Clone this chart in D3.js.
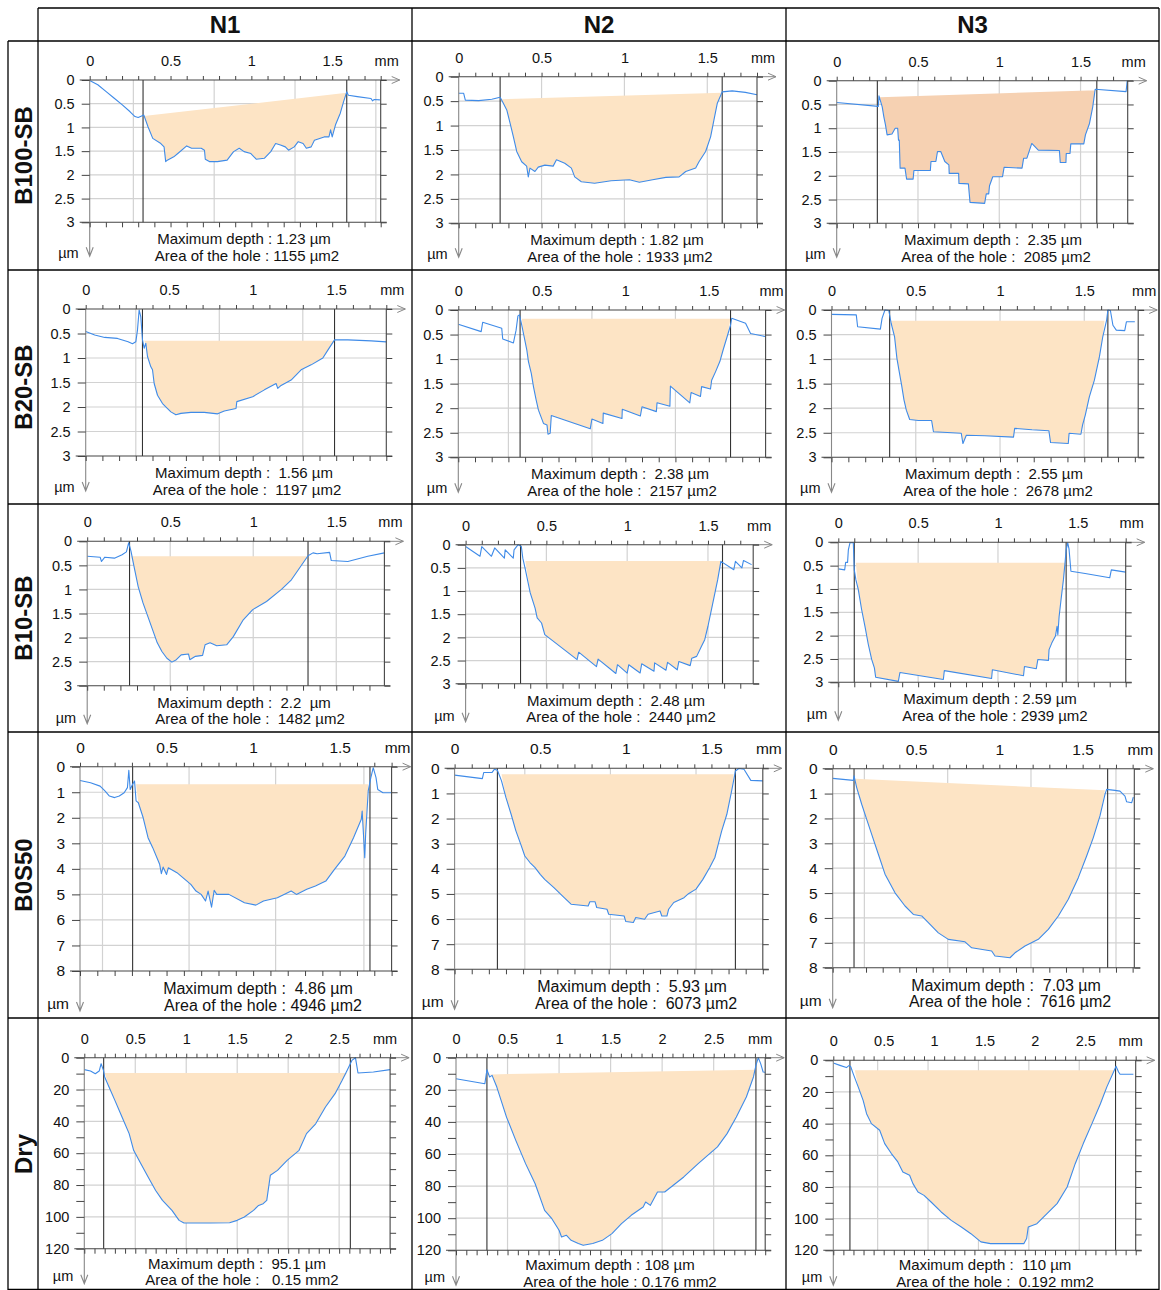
<!DOCTYPE html>
<html><head><meta charset="utf-8">
<script src="https://cdn.jsdelivr.net/npm/d3@7"></script>
<style>
body{margin:0;background:#fff}
svg text{font-family:"Liberation Sans",Arial,Helvetica,sans-serif;fill:#111}
</style>
</head><body>
<svg id="c" width="1161" height="1290"></svg>
<script>
// ---------------- DATA ----------------
const rowLabels = ["B100-SB","B20-SB","B10-SB","B0S50","Dry"];
const colLabels = ["N1","N2","N3"];

const yMaxByRow = [3,3,3,8,120];
const yTickLabelsByRow = [
  [0,0.5,1,1.5,2,2.5,3],
  [0,0.5,1,1.5,2,2.5,3],
  [0,0.5,1,1.5,2,2.5,3],
  [0,1,2,3,4,5,6,7,8],
  [0,20,40,60,80,100,120]
];
const yMinorStepByRow = [0.5,0.5,0.5,1,10];
const xTickLabelsByRow = [
  [0,0.5,1,1.5],[0,0.5,1,1.5],[0,0.5,1,1.5],[0,0.5,1,1.5],[0,0.5,1,1.5,2,2.5]
];
const xExtent = [1.80,1.80,1.79, 1.80,1.84,1.82, 1.79,1.78,1.80, 1.80,1.80,1.81, 3.0,3.0,3.0];

// profiles: [x mm, depth]
const b100_n1 = [[0,0.01],[0.05,0.1],[0.1,0.24],[0.15,0.38],[0.2,0.52],[0.25,0.67],[0.28,0.77],[0.30,0.79],[0.335,0.74],[0.36,0.98],[0.39,1.23],[0.44,1.34],[0.46,1.41],[0.47,1.72],[0.48,1.69],[0.52,1.62],[0.545,1.55],[0.60,1.39],[0.63,1.44],[0.69,1.44],[0.71,1.48],[0.715,1.67],[0.74,1.72],[0.79,1.72],[0.85,1.69],[0.89,1.51],[0.925,1.44],[0.955,1.51],[0.997,1.55],[1.03,1.67],[1.08,1.65],[1.12,1.51],[1.15,1.34],[1.18,1.37],[1.21,1.41],[1.23,1.48],[1.265,1.41],[1.29,1.30],[1.32,1.34],[1.34,1.44],[1.37,1.41],[1.39,1.27],[1.45,1.20],[1.48,1.20],[1.49,1.05],[1.50,1.20],[1.52,0.95],[1.55,0.70],[1.57,0.46],[1.59,0.25],[1.60,0.32],[1.655,0.35],[1.74,0.39],[1.75,0.44],[1.76,0.41],[1.795,0.42]];
const b100_n2 = [[0,0.34],[0.03,0.34],[0.04,0.48],[0.12,0.49],[0.2,0.46],[0.25,0.42],[0.27,0.55],[0.29,0.68],[0.31,0.95],[0.33,1.23],[0.35,1.53],[0.38,1.74],[0.41,1.83],[0.42,2.05],[0.43,1.87],[0.46,1.94],[0.48,1.85],[0.52,1.81],[0.57,1.83],[0.59,1.70],[0.64,1.77],[0.68,1.87],[0.70,2.05],[0.74,2.15],[0.82,2.18],[0.92,2.13],[1.03,2.11],[1.09,2.16],[1.17,2.11],[1.25,2.06],[1.33,2.05],[1.37,1.94],[1.43,1.87],[1.45,1.74],[1.49,1.53],[1.52,1.23],[1.54,0.89],[1.56,0.55],[1.59,0.31],[1.65,0.29],[1.73,0.32],[1.80,0.37]];
const b100_n3 = [[0,0.46],[0.256,0.54],[0.26,0.32],[0.28,0.55],[0.29,0.76],[0.30,0.93],[0.31,1.14],[0.34,1.12],[0.36,1.0],[0.375,1.0],[0.38,1.25],[0.385,1.25],[0.39,1.84],[0.42,1.84],[0.43,2.07],[0.47,2.07],[0.475,1.89],[0.576,1.89],[0.58,1.70],[0.61,1.70],[0.62,1.49],[0.64,1.49],[0.665,1.70],[0.69,1.77],[0.692,1.95],[0.75,1.95],[0.752,2.16],[0.81,2.17],[0.82,2.56],[0.91,2.58],[0.92,2.38],[0.935,2.38],[0.94,2.21],[0.96,2.02],[1.02,2.02],[1.03,1.82],[1.14,1.84],[1.15,1.63],[1.17,1.63],[1.20,1.32],[1.24,1.46],[1.37,1.47],[1.375,1.72],[1.41,1.72],[1.412,1.53],[1.435,1.53],[1.44,1.33],[1.52,1.33],[1.53,1.14],[1.555,0.90],[1.575,0.55],[1.59,0.18],[1.78,0.23],[1.787,0.0]];
const b20_n1 = [[0,0.46],[0.054,0.53],[0.114,0.58],[0.19,0.60],[0.254,0.67],[0.28,0.71],[0.30,0.67],[0.31,0.43],[0.32,0.02],[0.33,0.16],[0.34,0.63],[0.35,0.80],[0.36,0.70],[0.37,0.97],[0.39,1.18],[0.40,1.24],[0.41,1.52],[0.43,1.76],[0.46,1.93],[0.51,2.10],[0.54,2.16],[0.57,2.13],[0.63,2.11],[0.71,2.11],[0.79,2.14],[0.83,2.08],[0.90,2.03],[0.905,1.89],[1.0,1.79],[1.07,1.65],[1.14,1.52],[1.15,1.62],[1.17,1.56],[1.23,1.45],[1.29,1.24],[1.35,1.14],[1.42,1.0],[1.45,0.84],[1.49,0.63],[1.57,0.63],[1.71,0.65],[1.80,0.67]];
const b20_n2 = [[0,0.29],[0.137,0.44],[0.146,0.25],[0.26,0.37],[0.266,0.59],[0.33,0.67],[0.346,0.41],[0.357,0.12],[0.366,0.10],[0.38,0.31],[0.394,0.54],[0.41,0.81],[0.42,1.05],[0.437,1.29],[0.45,1.56],[0.466,1.83],[0.48,2.04],[0.51,2.31],[0.531,2.34],[0.537,2.53],[0.55,2.51],[0.557,2.15],[0.79,2.42],[0.80,2.22],[0.866,2.31],[0.868,2.10],[0.98,2.21],[0.982,2.02],[1.09,2.16],[1.10,1.97],[1.186,2.07],[1.19,1.89],[1.267,1.96],[1.27,1.55],[1.386,1.89],[1.394,1.68],[1.45,1.76],[1.457,1.56],[1.51,1.61],[1.517,1.43],[1.54,1.26],[1.566,1.05],[1.586,0.81],[1.61,0.54],[1.63,0.31],[1.637,0.17],[1.72,0.27],[1.75,0.48],[1.837,0.54]];
const b20_n3 = [[0,0.09],[0.147,0.10],[0.155,0.34],[0.29,0.39],[0.30,0.17],[0.317,0],[0.34,0.01],[0.354,0.27],[0.374,0.54],[0.388,0.98],[0.40,1.22],[0.416,1.53],[0.43,1.83],[0.444,2.04],[0.464,2.23],[0.515,2.25],[0.594,2.25],[0.605,2.48],[0.77,2.51],[0.78,2.72],[0.80,2.55],[0.91,2.56],[1.08,2.59],[1.087,2.41],[1.19,2.44],[1.29,2.46],[1.30,2.70],[1.405,2.72],[1.41,2.51],[1.48,2.53],[1.49,2.34],[1.506,2.14],[1.53,1.77],[1.56,1.43],[1.59,0.95],[1.61,0.54],[1.633,0.20],[1.64,0],[1.655,0.01],[1.67,0.31],[1.69,0.41],[1.74,0.42],[1.75,0.24],[1.80,0.24]];
const b10_n1 = [[0,0.31],[0.078,0.33],[0.086,0.42],[0.106,0.33],[0.164,0.35],[0.21,0.28],[0.236,0.22],[0.25,0.03],[0.264,0.21],[0.28,0.49],[0.307,0.94],[0.336,1.28],[0.365,1.56],[0.394,1.84],[0.422,2.11],[0.45,2.29],[0.48,2.43],[0.51,2.51],[0.537,2.46],[0.566,2.36],[0.61,2.34],[0.618,2.46],[0.652,2.39],[0.695,2.37],[0.71,2.15],[0.74,2.11],[0.78,2.17],[0.84,2.15],[0.88,1.98],[0.94,1.63],[0.997,1.42],[1.08,1.25],[1.17,1.0],[1.23,0.80],[1.28,0.55],[1.33,0.30],[1.36,0.24],[1.385,0.26],[1.46,0.23],[1.47,0.40],[1.57,0.42],[1.69,0.31],[1.79,0.24]];
const b10_n2 = [[0,0.04],[0.089,0.25],[0.10,0.04],[0.16,0.25],[0.18,0.07],[0.24,0.29],[0.245,0.11],[0.295,0.29],[0.30,0.11],[0.325,0],[0.345,0.04],[0.354,0.29],[0.37,0.54],[0.40,1.04],[0.43,1.37],[0.443,1.58],[0.47,1.69],[0.49,1.94],[0.69,2.48],[0.70,2.32],[0.81,2.63],[0.82,2.47],[0.93,2.78],[0.94,2.59],[1.0,2.77],[1.01,2.59],[1.08,2.77],[1.09,2.57],[1.166,2.73],[1.17,2.55],[1.24,2.71],[1.25,2.54],[1.31,2.70],[1.32,2.52],[1.39,2.61],[1.40,2.45],[1.43,2.41],[1.46,2.19],[1.48,2.05],[1.50,1.76],[1.53,1.26],[1.56,0.76],[1.58,0.36],[1.66,0.54],[1.67,0.36],[1.71,0.50],[1.72,0.34],[1.77,0.43]];
const b10_n3 = [[0,0.57],[0.04,0.59],[0.046,0.43],[0.058,0.43],[0.063,0.16],[0.073,0.01],[0.094,0.01],[0.10,0.59],[0.11,0.80],[0.125,1.01],[0.146,1.44],[0.167,1.80],[0.188,2.19],[0.209,2.51],[0.226,2.69],[0.234,2.89],[0.376,2.98],[0.386,2.79],[0.658,2.94],[0.664,2.75],[0.96,2.92],[0.965,2.73],[1.16,2.86],[1.166,2.66],[1.24,2.71],[1.25,2.51],[1.316,2.53],[1.32,2.30],[1.337,2.16],[1.36,2.01],[1.37,1.80],[1.375,1.98],[1.383,1.59],[1.395,1.23],[1.41,0.80],[1.42,0.44],[1.427,0.16],[1.437,0.01],[1.445,0.14],[1.457,0.62],[1.546,0.67],[1.70,0.76],[1.71,0.59],[1.80,0.64]];
const b0s50_n1 = [[0,0.54],[0.061,0.63],[0.116,0.76],[0.144,0.95],[0.17,1.15],[0.2,1.21],[0.227,1.15],[0.255,1.02],[0.274,0.82],[0.282,0.14],[0.29,0.89],[0.304,0.69],[0.315,0.56],[0.324,1.34],[0.337,1.41],[0.365,2.0],[0.393,2.78],[0.42,3.17],[0.46,3.82],[0.47,4.19],[0.48,3.93],[0.50,4.22],[0.51,3.96],[0.56,4.15],[0.64,4.61],[0.67,4.87],[0.70,5.0],[0.725,5.26],[0.74,4.87],[0.76,5.50],[0.775,4.84],[0.79,5.0],[0.86,5.0],[0.95,5.33],[1.016,5.42],[1.06,5.26],[1.14,5.13],[1.22,4.87],[1.25,5.0],[1.31,4.80],[1.36,4.67],[1.42,4.48],[1.47,4.02],[1.53,3.50],[1.58,2.78],[1.625,2.06],[1.63,1.74],[1.645,3.56],[1.65,2.65],[1.665,0.95],[1.68,0.43],[1.694,0.04],[1.71,0.43],[1.72,0.89],[1.75,1.02],[1.80,1.02]];
const b0s50_n2 = [[0,0.27],[0.162,0.41],[0.17,0.17],[0.218,0.17],[0.232,0.04],[0.25,0.08],[0.274,0.50],[0.30,1.17],[0.33,1.83],[0.358,2.49],[0.386,3.02],[0.41,3.49],[0.44,3.75],[0.47,3.95],[0.50,4.22],[0.526,4.42],[0.58,4.75],[0.64,5.15],[0.68,5.41],[0.78,5.48],[0.79,5.31],[0.82,5.31],[0.83,5.54],[0.89,5.61],[0.90,5.81],[0.99,5.88],[1.0,6.10],[1.044,6.14],[1.058,5.94],[1.11,6.01],[1.13,5.81],[1.20,5.68],[1.21,5.88],[1.24,5.88],[1.25,5.61],[1.28,5.34],[1.34,5.15],[1.366,4.99],[1.41,4.81],[1.45,4.42],[1.49,3.95],[1.52,3.55],[1.54,3.02],[1.56,2.49],[1.59,1.83],[1.618,0.90],[1.64,0.11],[1.66,0.01],[1.69,0.04],[1.73,0.48],[1.80,0.50]];
const b0s50_n3 = [[0,0.39],[0.124,0.47],[0.128,0.29],[0.144,0.76],[0.174,1.43],[0.204,2.04],[0.234,2.64],[0.274,3.44],[0.314,4.24],[0.374,4.99],[0.434,5.52],[0.484,5.86],[0.534,5.92],[0.574,6.19],[0.634,6.60],[0.694,6.86],[0.794,6.96],[0.834,7.20],[0.954,7.33],[0.974,7.53],[1.014,7.56],[1.064,7.60],[1.094,7.40],[1.154,7.13],[1.234,6.86],[1.294,6.46],[1.354,5.92],[1.414,5.25],[1.474,4.38],[1.524,3.51],[1.564,2.77],[1.604,1.90],[1.634,1.03],[1.644,0.83],[1.694,0.87],[1.724,0.90],[1.754,1.10],[1.764,1.33],[1.794,1.37],[1.804,1.14]];
const dry_n1 = [[0,7.5],[0.061,8.4],[0.108,10.1],[0.146,8.4],[0.165,3.8],[0.188,8.0],[0.20,12.1],[0.25,19.5],[0.30,26.8],[0.37,37.3],[0.44,47.7],[0.484,58.2],[0.555,66.6],[0.626,75.0],[0.70,83.4],[0.767,89.6],[0.86,95.9],[0.93,102.2],[0.978,103.9],[1.096,103.9],[1.237,103.9],[1.425,103.7],[1.50,102.2],[1.57,100.1],[1.66,95.9],[1.71,92.8],[1.755,91.7],[1.79,89.6],[1.825,73.9],[1.895,70.8],[1.99,64.5],[2.107,58.2],[2.18,47.7],[2.27,41.5],[2.366,31.0],[2.46,22.6],[2.53,14.2],[2.578,8.0],[2.625,1.7],[2.66,0],[2.685,9.6],[2.836,9.0],[3.0,7.5]];
const dry_n2 = [[0,13.1],[0.28,16.2],[0.30,7.5],[0.326,12.0],[0.35,11.0],[0.396,18.3],[0.49,37.0],[0.58,51.5],[0.675,66.0],[0.768,78.5],[0.86,95.1],[0.93,100.3],[1.0,107.5],[1.024,111.7],[1.07,110.6],[1.117,113.8],[1.187,115.8],[1.234,116.9],[1.327,115.8],[1.42,113.8],[1.513,109.6],[1.606,103.4],[1.70,98.2],[1.816,93.0],[1.84,89.9],[1.886,92.0],[1.955,83.7],[2.025,83.7],[2.21,74.3],[2.35,66.0],[2.537,55.6],[2.63,47.3],[2.72,37.0],[2.817,24.5],[2.886,12.0],[2.91,4.8],[2.933,0],[2.956,3.7],[2.98,8.9],[3.0,9.1]];
const dry_n3 = [[0,1.7],[0.066,3.2],[0.13,4.6],[0.158,3.2],[0.174,4.2],[0.197,8.4],[0.247,16.8],[0.296,25.3],[0.33,33.7],[0.378,40.0],[0.46,44.2],[0.51,52.6],[0.576,58.9],[0.64,64.2],[0.69,70.5],[0.757,72.6],[0.79,77.9],[0.84,83.2],[0.90,85.3],[0.97,89.5],[1.07,95.8],[1.17,101.1],[1.27,105.3],[1.365,109.5],[1.464,114.7],[1.56,115.8],[1.69,115.8],[1.82,115.8],[1.89,115.8],[1.918,112.6],[1.934,105.3],[2.02,103.2],[2.12,96.8],[2.22,90.5],[2.32,80.0],[2.40,65.3],[2.48,52.6],[2.566,40.0],[2.65,27.4],[2.714,16.8],[2.78,7.4],[2.805,3.8],[2.83,7.4],[2.845,8.8],[2.977,8.8]];

const profiles = [b100_n1,b100_n2,b100_n3,b20_n1,b20_n2,b20_n3,b10_n1,b10_n2,b10_n3,b0s50_n1,b0s50_n2,b0s50_n3,dry_n1,dry_n2,dry_n3];

// hole boundaries (mm)
const holeBounds = [[0.33,1.59],[0.25,1.59],[0.25,1.60],[0.34,1.49],[0.37,1.63],[0.345,1.64],[0.255,1.33],[0.34,1.59],[0.10,1.427],[0.304,1.675],[0.25,1.64],[0.128,1.65],[0.19,2.61],[0.30,2.91],[0.165,2.80]];
// reference (top) line of the hole: [x start, depth start, x end, depth end]
const refLines = [[0.335,0.76,1.59,0.27],[0.26,0.46,1.59,0.33],[0.266,0.35,1.596,0.20],[0.35,0.65,1.49,0.65],[0.38,0.18,1.63,0.18],[0.354,0.22,1.62,0.22],[0.264,0.31,1.33,0.31],[0.37,0.35,1.58,0.35],[0.11,0.44,1.42,0.44],[0.324,0.69,1.665,0.69],[0.274,0.24,1.63,0.24],[0.134,0.40,1.634,0.87],[0.20,9.6,2.578,9.6],[0.326,10.4,2.91,7.5],[0.214,6.3,2.78,6.3]];
// vertical grid positions (mm)
const gridX = [[0.27,0.77,1.27,1.77],[0.5,1,1.5],[0.5,1,1.5],[0.30,0.80,1.30],[0.30,0.80,1.30],[0.5,1,1.5],[0.5,1,1.5],[0.5,1,1.5],[0.5,1,1.5],[0.13,0.63,1.13,1.64],[0.41,0.91,1.41],[0.19,0.69,1.19,1.70],[0.5,1,1.5,2,2.5],[0.5,1,1.5,2,2.5],[0.44,0.94,1.44,1.94,2.44]];

const maxDepthText = ["1.23 µm","1.82 µm"," 2.35 µm"," 1.56 µm"," 2.38 µm"," 2.55 µm"," 2.2  µm"," 2.48 µm","2.59 µm"," 4.86 µm"," 5.93 µm"," 7.03 µm"," 95.1 µm","108 µm"," 110 µm"];
const areaText = ["1155 µm2","1933 µm2"," 2085 µm2"," 1197 µm2"," 2157 µm2"," 2678 µm2"," 1482 µm2"," 2440 µm2","2939 µm2","4946 µm2"," 6073 µm2"," 7616 µm2","  0.15 mm2","0.176 mm2"," 0.192 mm2"];

// ---------------- LAYOUT (pixels) ----------------
const boxes = [
 [89.7,380.7,80,222.3],[458.7,757,76.7,223.3],[836.7,1127.7,80.7,223.3],
 [85.7,386.3,309,456],[458.3,765.6,310,457.3],[831.5,1138.2,310,457.3],
 [87.2,384.4,541.3,685.7],[465.6,753.2,544.7,683.7],[838.3,1125.7,542.3,682.3],
 [80,391.6,766.7,971],[454.6,762.8,768.3,969.3],[832.7,1134.3,768.7,967.7],
 [84.3,390.1,1057.7,1248.7],[456,765.2,1057.7,1250.3],[833.3,1135.7,1060.3,1250.3]
];
const textCenters = [[244,247],[617,620],[993,996],[244,247],[620,622],[994,998],[244,250],[616,621],[990,995],[258,263],[632,636],[1006,1010],[237,242],[610,620],[985,995]];
const fillColors = ["#fde4c5","#fde4c5","#f6d1b2","#fde4c5","#fde4c5","#fde4c5","#fde4c5","#fde4c5","#fde4c5","#fde4c5","#fde4c5","#fde4c5","#fde4c5","#fde4c5","#fde4c5"];
const tickFont = [14.5,14.5,14.5,15.5,14.5];
const textFont = [15,15,15,16,15];
const textOff = [[22,38.5],[22,38.5],[22,38.5],[23,39.5],[20,36.5]];
const arrowOff = [34,35,38,40,35];
const umOff = [36,36,37,38,32];

// ---------------- DRAW ----------------
const svg = d3.select("#c");
const lineCol = "#000";
const tbl = svg.append("g").attr("stroke",lineCol).attr("stroke-width",1.3);
const hLines = [[38,1159,8],[8,1159,41],[8,1159,270],[8,1159,504],[8,1159,732],[8,1159,1018],[8,1159,1289.5]];
const vLines = [[8,41,1290],[38,8,1290],[412,8,1290],[786,8,1290],[1159,8,1290]];
tbl.selectAll("line.h").data(hLines).join("line").attr("class","h")
  .attr("x1",d=>d[0]).attr("x2",d=>d[1]).attr("y1",d=>d[2]).attr("y2",d=>d[2]);
tbl.selectAll("line.v").data(vLines).join("line").attr("class","v")
  .attr("x1",d=>d[0]).attr("x2",d=>d[0]).attr("y1",d=>d[1]).attr("y2",d=>d[2]);

const colCenters = [225,599,972.5];
svg.selectAll("text.col").data(colLabels).join("text").attr("class","col")
  .attr("x",(d,i)=>colCenters[i]).attr("y",33).attr("text-anchor","middle")
  .attr("font-size",24).attr("font-weight","bold").text(d=>d);
const rowCenters = [155.5,387,618,875,1154];
svg.selectAll("text.row").data(rowLabels).join("text").attr("class","row")
  .attr("transform",(d,i)=>`translate(23,${rowCenters[i]}) rotate(-90)`)
  .attr("text-anchor","middle").attr("dy","0.36em")
  .attr("font-size",24).attr("font-weight","bold").text(d=>d);

function styleAxis(sel, fs){
  sel.select(".domain").remove();
  sel.attr("font-family",null).attr("font-size",fs);
  sel.selectAll("line").attr("stroke","#444");
  sel.selectAll("text").attr("fill","#111");
}

profiles.forEach((prof,i)=>{
  const r = Math.floor(i/3);
  const [x0,x1,y0,y1] = boxes[i];
  const xEnd = xExtent[i], yMax = yMaxByRow[r];
  const xs = d3.scaleLinear().domain([0,xEnd]).range([x0,x1]);
  const ys = d3.scaleLinear().domain([0,yMax]).range([y0,y1]);
  const g = svg.append("g");

  const yMajor = yTickLabelsByRow[r];
  const yMinor = d3.range(0, Math.round(yMax/yMinorStepByRow[r])+1).map(k=>+(k*yMinorStepByRow[r]).toFixed(3));
  const xMinor = d3.range(0, Math.floor(xEnd*10+1e-6)+1).map(k=>k/10);

  // horizontal grid
  g.selectAll("line.hg").data(yMajor.filter(v=>v>0&&v<yMax)).join("line").attr("class","hg")
    .attr("x1",x0).attr("x2",x1).attr("y1",d=>ys(d)).attr("y2",d=>ys(d))
    .attr("stroke","#d2d2d2").attr("stroke-width",1.2);
  // vertical grid
  g.selectAll("line.vg").data(gridX[i]).join("line").attr("class","vg")
    .attr("x1",d=>xs(d)).attr("x2",d=>xs(d)).attr("y1",y0).attr("y2",y1)
    .attr("stroke","#d2d2d2").attr("stroke-width",1.2);

  // fill of the hole
  const [xa,da,xb,db] = refLines[i];
  const inner = prof.filter(p=>p[0]>xa && p[0]<xb).slice().reverse();
  const poly = [[xa,da],[xb,db]].concat(inner);
  const ln = d3.line().x(d=>xs(d[0])).y(d=>ys(d[1]));
  g.append("path").attr("d", ln(poly)+"Z").attr("fill",fillColors[i]).attr("stroke","none");

  // hole boundaries
  g.selectAll("line.hb").data(holeBounds[i]).join("line").attr("class","hb")
    .attr("x1",d=>xs(d)).attr("x2",d=>xs(d)).attr("y1",y0).attr("y2",y1)
    .attr("stroke","#333").attr("stroke-width",1.1);

  // profile
  g.append("path").attr("d", ln(prof)).attr("fill","none")
    .attr("stroke","#3f8be8").attr("stroke-width",1.1).attr("stroke-linejoin","round");

  // right border
  g.append("line").attr("x1",x1).attr("x2",x1).attr("y1",y0).attr("y2",y1).attr("stroke","#444").attr("stroke-width",1.1);
  // top axis line + arrow
  g.append("line").attr("x1",x0-10).attr("x2",x1+6).attr("y1",y0).attr("y2",y0).attr("stroke","#444").attr("stroke-width",1.1);
  g.append("path").attr("d",`M${x1+6},${y0}H${x1+19}M${x1+11},${y0-3.5}L${x1+19},${y0}L${x1+11},${y0+3.5}`)
    .attr("fill","none").attr("stroke","#888").attr("stroke-width",1);
  // bottom line
  g.append("line").attr("x1",x0-10).attr("x2",x1+6).attr("y1",y1).attr("y2",y1).attr("stroke","#444").attr("stroke-width",1.1);
  // left axis + arrow
  const tip = y1 + arrowOff[r];
  g.append("path").attr("d",`M${x0},${y0}V${tip}M${x0-3.5},${tip-9}L${x0},${tip}L${x0+3.5},${tip-9}`)
    .attr("fill","none").attr("stroke","#888").attr("stroke-width",1.1);

  // top minor ticks
  g.append("g").attr("transform",`translate(0,${y0})`)
    .call(d3.axisTop(xs).tickValues(xMinor).tickSize(4).tickFormat(""))
    .call(s=>styleAxis(s,tickFont[r]));
  // top labels
  g.append("g").attr("transform",`translate(0,${y0})`)
    .call(d3.axisTop(xs).tickValues(xTickLabelsByRow[r]).tickSize(0).tickPadding(14).tickFormat(d3.format("")))
    .call(s=>styleAxis(s,tickFont[r]));
  // bottom minor ticks
  g.append("g").attr("transform",`translate(0,${y1})`)
    .call(d3.axisBottom(xs).tickValues(xMinor).tickSize(5).tickFormat(""))
    .call(s=>styleAxis(s,tickFont[r]));
  // left ticks and labels
  g.append("g").attr("transform",`translate(${x0},0)`)
    .call(d3.axisLeft(ys).tickValues(yMinor).tickSize(8).tickFormat(""))
    .call(s=>styleAxis(s,tickFont[r]));
  g.append("g").attr("transform",`translate(${x0},0)`)
    .call(d3.axisLeft(ys).tickValues(yMajor).tickSize(0).tickPadding(15).tickFormat(d3.format("")))
    .call(s=>styleAxis(s,tickFont[r]));
  // right ticks
  g.append("g").attr("transform",`translate(${x1},0)`)
    .call(d3.axisRight(ys).tickValues(yMinor).tickSize(6).tickFormat(""))
    .call(s=>styleAxis(s,tickFont[r]));

  // units
  g.append("text").attr("x", r===4 ? x1-5 : x1+6).attr("y",y0-14).attr("text-anchor","middle")
    .attr("font-size",tickFont[r]).text("mm");
  g.append("text").attr("x",x0-11).attr("y",y1+umOff[r]).attr("text-anchor","end")
    .attr("font-size",tickFont[r]).text("µm");

  // result texts
  g.append("text").attr("x",textCenters[i][0]).attr("y",y1+textOff[r][0]).attr("text-anchor","middle")
    .attr("font-size",textFont[r]).style("white-space","pre").text("Maximum depth : " + maxDepthText[i]);
  g.append("text").attr("x",textCenters[i][1]).attr("y",y1+textOff[r][1]).attr("text-anchor","middle")
    .attr("font-size",textFont[r]).style("white-space","pre").text("Area of the hole : " + areaText[i]);
});
</script>
</body></html>
